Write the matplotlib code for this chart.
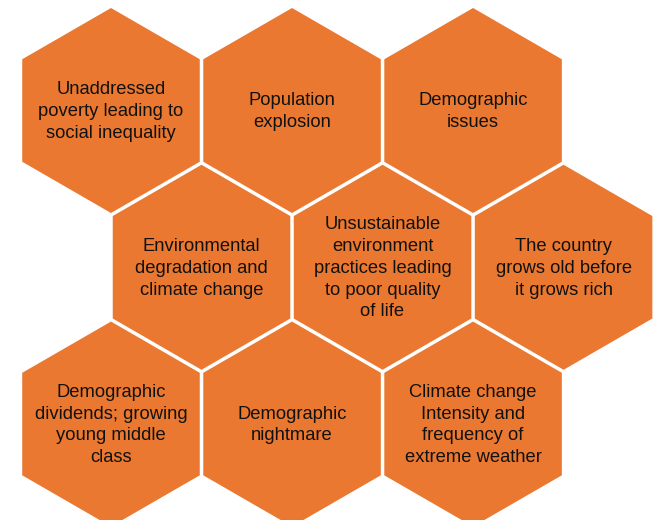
import numpy as np
import matplotlib
matplotlib.use("Agg")
from matplotlib import pyplot as plt
from matplotlib.patches import RegularPolygon

# hexagon labels, read left-to-right, top-to-bottom (3 rows of 3)
labels = [
    "Unaddressed\npoverty leading to\nsocial inequality",
    "Population\nexplosion",
    "Demographic\nissues",
    "Environmental\ndegradation and\nclimate change",
    "Unsustainable\nenvironment\npractices leading\nto poor quality\nof life",
    "The country\ngrows old before\nit grows rich",
    "Demographic\ndividends; growing\nyoung middle\nclass",
    "Demographic\nnightmare",
    "Climate change\nIntensity and\nfrequency of\nextreme weather",
]

W, H = 661, 520
R = 102.5               # circumradius in px
gap = 3.5
pitch = np.sqrt(3) * R + gap
x0, y0 = 111, 110.5
fill = "#EB7830"

fig = plt.figure(figsize=(W / 100, H / 100), dpi=100)
ax = fig.add_axes([0, 0, 1, 1])
ax.set_xlim(0, W)
ax.set_ylim(H, 0)
ax.set_aspect("equal")
ax.axis("off")

for i, txt in enumerate(labels):
    row, col = divmod(i, 3)
    cx = x0 + col * pitch + (pitch / 2 if row == 1 else 0)
    cy = y0 + row * pitch * np.sin(np.pi / 3)
    ax.add_patch(RegularPolygon((cx, cy), numVertices=6, radius=R,
                                orientation=0, facecolor=fill, edgecolor="none"))
    ax.text(cx, cy + 1, txt, ha="center", va="center", fontsize=13.2,
            family="Liberation Sans", color="#111111", linespacing=1.37)

fig.savefig("out.png", dpi=100)
